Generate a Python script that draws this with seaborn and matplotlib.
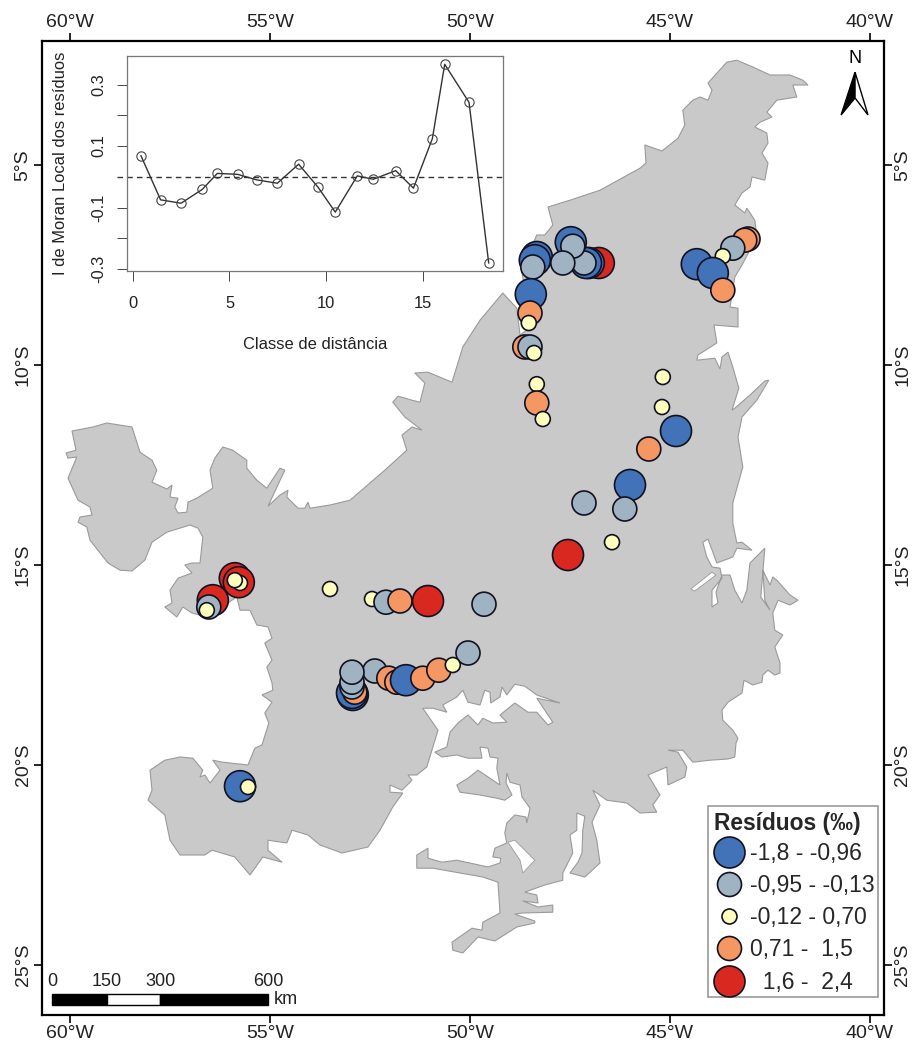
import matplotlib
matplotlib.use("Agg")
import matplotlib.pyplot as plt
from matplotlib.lines import Line2D
from matplotlib.patches import Polygon
import pandas as pd
import seaborn as sns

# Study area outline (lon, lat), digitised north -> west -> south -> east
north_edge = [(-43.58, -2.43), (-44.05, -2.95), (-43.95, -3.13), (-44.05, -3.38), (-44.25, -3.30), (-44.43, -3.38),
              (-44.68, -3.63), (-44.63, -4.0), (-44.8, -4.33), (-45.2, -4.65), (-45.63, -4.5), (-45.6, -4.95),
              (-45.75, -5.08), (-46.75, -5.63), (-47.5, -5.88), (-48.05, -6.05), (-47.93, -6.5), (-48.13, -6.75),
              (-48.33, -6.75), (-48.5, -7.13), (-48.7, -7.7), (-48.58, -8.38), (-48.58, -9.13), (-48.75, -9.25),
              (-48.83, -8.58), (-49.18, -8.2), (-49.75, -8.88), (-50.18, -9.55), (-50.45, -10.43), (-51.05, -10.18),
              (-51.38, -10.2), (-51.13, -10.45), (-51.25, -10.93), (-51.45, -10.88), (-51.8, -10.78), (-51.93, -10.93),
              (-51.63, -11.3), (-51.2, -11.63), (-51.45, -11.55), (-51.7, -11.75), (-51.58, -12.13), (-52.13, -12.63),
              (-53.0, -13.38), (-53.5, -13.5), (-54.0, -13.58), (-54.05, -13.43), (-54.13, -13.58), (-54.3, -13.58),
              (-54.58, -13.3), (-54.55, -13.13), (-54.75, -13.25), (-55.05, -13.53), (-54.63, -12.63), (-54.75, -12.58),
              (-55.08, -13.08), (-55.33, -12.88), (-55.58, -12.58), (-55.58, -12.38), (-55.93, -12.13), (-56.18, -12.05),
              (-56.38, -12.33), (-56.5, -12.63), (-56.43, -13.08), (-56.83, -13.33), (-57.05, -13.43), (-57.08, -13.68),
              (-57.3, -13.7), (-57.38, -13.55), (-57.3, -13.33), (-57.5, -13.3), (-57.45, -13.0), (-57.58, -13.1),
              (-57.95, -12.93), (-57.83, -12.63), (-57.95, -12.38), (-58.25, -12.18), (-58.45, -11.55), (-59.08, -11.45),
              (-59.43, -11.55), (-59.95, -11.65)]
west_edge = [(-59.85, -12.13), (-60.1, -12.2), (-60.05, -12.33), (-59.83, -12.3), (-60.05, -12.83), (-59.8, -13.38),
             (-59.5, -13.55), (-59.45, -13.75), (-59.75, -13.8), (-59.8, -13.93), (-59.58, -14.05), (-59.5, -14.38),
             (-59.05, -14.95), (-58.75, -15.13), (-58.45, -15.15), (-58.13, -14.88), (-57.95, -14.43), (-57.58, -14.18),
             (-57.0, -14.0), (-56.8, -14.08), (-56.68, -14.3), (-56.75, -14.95), (-56.95, -14.95), (-57.13, -15.0),
             (-56.95, -15.2), (-57.3, -15.33), (-57.5, -15.63), (-57.45, -15.95), (-57.63, -16.05), (-57.33, -16.3),
             (-57.18, -16.05), (-56.95, -16.2), (-56.58, -16.3), (-55.83, -15.8), (-55.75, -16.13), (-55.5, -16.13),
             (-55.33, -16.5), (-55.05, -16.55), (-54.95, -16.83), (-55.13, -16.95), (-54.95, -17.38), (-55.08, -17.55),
             (-54.95, -17.95), (-54.93, -18.13), (-55.2, -18.25), (-54.95, -18.43), (-55.13, -18.7), (-55.03, -18.95),
             (-55.2, -19.5), (-55.38, -19.58), (-55.55, -20.0), (-56.18, -19.93), (-56.43, -19.88), (-56.25, -20.13),
             (-56.5, -20.45), (-56.63, -20.25), (-56.75, -20.3), (-56.68, -20.13), (-56.93, -19.83), (-57.25, -19.8),
             (-57.63, -19.88), (-58.0, -20.13), (-57.95, -20.63), (-58.05, -20.88), (-57.63, -21.25), (-57.5, -21.88)]
south_edge = [(-57.25, -22.25), (-56.63, -22.25), (-56.45, -22.13), (-55.88, -22.3), (-55.5, -22.75), (-55.18, -22.3),
              (-54.7, -22.43), (-55.05, -22.13), (-55.05, -21.88), (-54.58, -21.95), (-54.45, -21.63), (-54.05, -21.75),
              (-53.75, -22.0), (-53.2, -22.2), (-52.55, -22.05), (-52.25, -21.63), (-51.93, -21.05), (-51.68, -20.7),
              (-52.0, -20.68), (-52.0, -20.5), (-51.7, -20.63), (-51.45, -20.38), (-51.55, -20.25), (-51.33, -20.25),
              (-51.08, -20.05), (-50.8, -19.13), (-51.18, -18.58), (-50.93, -18.58), (-50.58, -18.68), (-50.68, -18.5),
              (-50.33, -18.3), (-50.18, -18.13), (-50.05, -18.43), (-49.75, -18.5), (-49.63, -18.13), (-49.5, -18.18),
              (-49.48, -18.45), (-49.25, -18.3), (-49.2, -18.05), (-49.08, -18.25), (-48.88, -17.98), (-48.63, -18.03),
              (-48.33, -18.25), (-47.75, -18.45), (-48.33, -18.33), (-47.93, -18.93), (-48.05, -19.0), (-48.33, -18.68),
              (-48.55, -18.68), (-48.88, -18.45), (-49.25, -18.75), (-49.08, -18.93), (-49.43, -18.95), (-49.68, -18.83),
              (-49.8, -19.0), (-50.05, -18.75), (-50.3, -18.95), (-50.5, -19.18), (-50.58, -19.55), (-50.88, -19.68),
              (-50.7, -19.8), (-50.33, -19.75), (-50.05, -19.83), (-49.7, -19.83), (-49.75, -19.55), (-49.55, -19.58),
              (-49.5, -19.8), (-49.3, -19.83), (-49.33, -20.08), (-49.25, -20.5), (-49.8, -20.13), (-50.05, -20.33),
              (-50.33, -20.5), (-50.25, -20.68), (-49.75, -20.75), (-49.33, -20.83), (-49.13, -20.88), (-48.95, -20.75),
              (-49.1, -20.45), (-49.08, -20.2), (-49.0, -20.43), (-48.75, -20.5), (-48.7, -20.8), (-48.5, -21.08),
              (-48.58, -21.45), (-48.6, -21.3), (-48.88, -21.25), (-49.08, -21.45), (-49.13, -21.7), (-49.08, -21.95),
              (-49.38, -22.08), (-49.43, -22.3), (-49.23, -22.33), (-49.25, -22.45), (-49.55, -22.55), (-50.33, -22.38),
              (-50.7, -22.43), (-51.05, -22.33), (-51.05, -22.08), (-51.33, -22.25), (-51.33, -22.58), (-50.93, -22.58),
              (-50.25, -22.7), (-49.68, -22.8), (-49.3, -22.93), (-49.25, -23.7), (-49.68, -23.93), (-49.7, -24.13),
              (-49.95, -24.08), (-50.45, -24.43), (-50.43, -24.63), (-50.18, -24.7), (-49.8, -24.3), (-49.38, -24.4),
              (-48.83, -24.05), (-48.38, -23.95), (-48.38, -23.9), (-48.88, -23.73), (-48.7, -23.7), (-47.93, -23.68),
              (-47.93, -23.5), (-48.3, -23.55), (-48.68, -23.4), (-48.3, -23.45), (-48.33, -23.25), (-48.63, -23.18),
              (-48.13, -23.0), (-47.68, -22.88), (-47.68, -22.7), (-47.43, -22.2), (-47.5, -21.75), (-47.33, -21.63),
              (-47.33, -21.2), (-47.13, -21.28), (-47.18, -21.63), (-47.2, -22.2), (-47.3, -22.43), (-47.5, -22.7),
              (-47.13, -22.8), (-46.75, -22.45), (-46.83, -21.88), (-46.95, -21.43), (-46.75, -21.0), (-46.93, -20.63),
              (-46.58, -20.88), (-46.08, -20.95), (-45.75, -21.2), (-45.33, -21.18), (-45.43, -21.0), (-45.25, -20.75),
              (-45.55, -20.25), (-45.08, -20.05), (-45.05, -20.5), (-44.63, -20.3), (-44.58, -20.05), (-44.8, -19.68),
              (-45.05, -19.63), (-44.68, -19.63), (-44.43, -19.93)]
east_edge = [(-44.0, -19.88), (-43.55, -19.85), (-43.38, -19.8), (-43.35, -19.45), (-43.3, -19.33), (-43.43, -19.13),
             (-43.68, -18.88), (-43.7, -18.63), (-43.55, -18.43), (-43.2, -18.2), (-43.15, -17.88), (-42.93, -18.0),
             (-42.7, -17.93), (-42.68, -17.75), (-42.55, -17.63), (-42.38, -17.75), (-42.25, -17.7), (-42.25, -17.45),
             (-42.38, -17.05), (-42.18, -16.75), (-42.38, -16.63), (-42.43, -16.2), (-42.3, -15.88), (-42.0, -16.0),
             (-41.8, -15.88), (-42.0, -15.75), (-42.33, -15.38), (-42.43, -15.3), (-42.5, -15.5), (-42.68, -15.13),
             (-42.63, -15.88), (-42.5, -16.13), (-42.73, -15.8), (-42.63, -14.58), (-43.0, -14.95), (-43.08, -15.63),
             (-43.2, -15.95), (-43.38, -15.63), (-43.5, -15.25), (-43.7, -15.25), (-43.85, -15.68), (-43.8, -15.95),
             (-43.95, -16.05), (-43.95, -15.63), (-43.7, -15.33), (-43.75, -15.08), (-43.95, -15.05), (-44.08, -14.8),
             (-44.18, -14.43), (-44.05, -14.35), (-43.83, -14.95), (-43.43, -14.8), (-43.33, -14.58), (-42.95, -14.63),
             (-43.2, -14.43), (-43.33, -14.45), (-43.43, -13.95), (-43.43, -13.45), (-43.18, -12.55), (-43.3, -11.8),
             (-43.2, -11.3), (-42.83, -10.88), (-42.53, -10.38), (-42.63, -10.4), (-43.0, -10.75), (-43.38, -11.08),
             (-43.45, -11.13), (-43.28, -10.58), (-43.43, -10.05), (-43.55, -9.68), (-43.7, -9.8), (-43.75, -10.1),
             (-43.88, -9.83), (-44.33, -9.88), (-44.3, -9.75), (-43.83, -9.45), (-43.9, -9.0), (-43.3, -9.05),
             (-43.3, -8.58), (-43.5, -8.55), (-43.38, -7.8), (-43.2, -7.5), (-42.83, -6.8), (-42.88, -6.38),
             (-43.08, -6.08), (-43.13, -6.2), (-43.38, -6.0), (-43.2, -5.7), (-43.0, -5.55), (-42.95, -5.3),
             (-42.63, -5.38), (-42.55, -4.95), (-42.7, -4.7), (-42.55, -4.45), (-42.58, -4.2), (-42.88, -4.05),
             (-42.75, -3.93), (-42.45, -3.8), (-42.58, -3.68), (-42.33, -3.38), (-41.83, -3.3), (-41.93, -3.0),
             (-41.55, -3.0), (-41.68, -2.88), (-42.0, -2.75), (-42.5, -2.75), (-42.93, -2.55), (-43.33, -2.38)]
hole_south = [(-49.05, -21.93), (-48.88, -21.88), (-48.38, -22.38), (-48.68, -22.7), (-48.75, -22.38)]
hole_east = [(-44.48, -15.6), (-43.95, -15.18), (-43.85, -15.25), (-44.38, -15.65)]

# Sampling sites, in drawing order
site_lon = [-48.33, -48.38, -48.43, -48.48, -48.5, -48.53, -48.63, -48.5, -48.4, -48.33, -48.33, -48.18,
            -46.78, -47.03, -47.1, -47.15, -47.48, -47.43, -47.68,
            -43.05, -43.13, -43.43, -43.68, -44.33, -43.93, -43.68,
            -45.18, -45.2, -44.85, -45.53, -46.0, -46.13, -47.15, -46.45, -47.55,
            -56.43, -56.53, -56.58, -55.88, -55.78, -55.75, -55.88,
            -53.5, -52.45, -52.1, -51.75, -51.05, -49.65,
            -52.38, -52.03, -51.83, -51.6, -51.18, -50.78, -50.05, -50.43,
            -52.93, -52.95, -52.88, -52.95, -52.95, -52.95,
            -55.75, -55.55]
site_lat = [-7.3, -7.38, -7.55, -8.23, -8.7, -8.95, -9.55, -9.55, -9.7, -10.48, -10.95, -11.35,
            -7.45, -7.45, -7.45, -7.45, -6.93, -7.03, -7.45,
            -6.85, -6.88, -7.08, -7.28, -7.48, -7.7, -8.13,
            -10.3, -11.05, -11.65, -12.1, -13.0, -13.6, -13.45, -14.43, -14.75,
            -15.88, -16.05, -16.13, -15.33, -15.43, -15.45, -15.38,
            -15.6, -15.85, -15.93, -15.9, -15.9, -15.98,
            -17.65, -17.83, -17.93, -17.88, -17.83, -17.63, -17.2, -17.5,
            -18.25, -18.2, -18.18, -18.05, -17.93, -17.68,
            -20.53, -20.55]
site_class = [0, 0, 1, 0, 3, 2, 3, 1, 2, 2, 3, 2,
              4, 0, 0, 1, 0, 1, 1,
              3, 3, 1, 2, 0, 0, 3,
              2, 2, 0, 3, 0, 1, 1, 2, 4,
              4, 1, 2, 4, 4, 2, 2,
              2, 2, 1, 3, 4, 1,
              1, 3, 3, 0, 3, 3, 1, 2,
              0, 0, 3, 1, 1, 1,
              0, 2]
class_labels = ["-1,8 - -0,96", "-0,95 - -0,13", "-0,12 - 0,70", "0,71 -  1,5", "  1,6 -  2,4"]
class_colors = ["#4272b8", "#9fb3c3", "#ffffbe", "#f59763", "#d9281f"]
class_diam_px = [31, 24, 15, 24, 31]

# Correlogram
moran_class = [0.41, 1.43, 2.49, 3.59, 4.37, 5.42, 6.41, 7.48, 8.58, 9.59, 10.48, 11.62, 12.45, 13.61, 14.53, 15.51, 16.15, 17.41, 18.43]
moran_i = [0.069, -0.075, -0.086, -0.041, 0.011, 0.008, -0.010, -0.021, 0.041, -0.034, -0.115, 0.003, -0.008, 0.020, -0.037, 0.124, 0.366, 0.242, -0.281]

# Scale bar
scale_km = [0, 150, 300, 600]
scale_lon = [-60.45, -59.08, -57.75, -55.05]
scale_colors = ["black", "white", "black"]

sns.set_theme(style="white")
plt.rcParams["font.family"] = ["Liberation Sans", "DejaVu Sans"]

W, H = 913, 1045
fig = plt.figure(figsize=(W / 100, H / 100), dpi=100)
ax = fig.add_axes([42 / W, 1 - 1015 / H, 842 / W, 974 / H])

outline = north_edge + west_edge + south_edge + east_edge
ax.fill([p[0] for p in outline], [p[1] for p in outline], facecolor="#c9c9c9", edgecolor="#9a9a9a", linewidth=0.8, zorder=1)
for hole in [hole_south, hole_east]:
    ax.fill([p[0] for p in hole], [p[1] for p in hole], facecolor="white", edgecolor="#9a9a9a", linewidth=0.6, zorder=1.5)

sites = pd.DataFrame({"lon": site_lon, "lat": site_lat, "classe": site_class})
sizes = {i: (d * 0.72) ** 2 for i, d in enumerate(class_diam_px)}
sns.scatterplot(data=sites, x="lon", y="lat", hue="classe", size="classe", palette=dict(enumerate(class_colors)),
                sizes=sizes, edgecolor="#111122", linewidth=1.2, legend=False, ax=ax, zorder=3)

ax.set_xlim(-60.7, -39.65)
ax.set_ylim(-26.25, -1.9)
ax.set_xlabel("")
ax.set_ylabel("")
lon_ticks = [-60, -55, -50, -45, -40]
lat_ticks = [-5, -10, -15, -20, -25]
ax.set_xticks(lon_ticks)
ax.set_xticklabels([f"{-v}°W" for v in lon_ticks])
ax.set_yticks(lat_ticks)
ax.set_yticklabels([f"{-v}°S" for v in lat_ticks], rotation=90, va="center")
ax.tick_params(axis="both", which="both", length=5.5, width=1.2, color="black", labelsize=14, labelcolor="#222222",
               top=True, right=True, bottom=True, left=True, labeltop=True, labelright=True, pad=2)
for s in ax.spines.values():
    s.set_color("black")
    s.set_linewidth(1.6)
    s.set_visible(True)

# scale bar
for i, c in enumerate(scale_colors):
    ax.barh(-25.87, scale_lon[i + 1] - scale_lon[i], left=scale_lon[i], height=0.27, color=c, edgecolor="black", linewidth=1, zorder=4)
for km, lon in zip(scale_km, scale_lon):
    ax.text(lon, -25.63, str(km), ha="center", va="bottom", fontsize=13, color="#222222")
ax.text(-54.9, -25.87, "km", ha="left", va="center", fontsize=13, color="#222222")

# north arrow
ax.add_patch(Polygon([(0.9656, 0.968), (0.949, 0.924), (0.9656, 0.9415)], closed=True, transform=ax.transAxes, facecolor="black", edgecolor="black", linewidth=1))
ax.add_patch(Polygon([(0.9656, 0.968), (0.981, 0.924), (0.9656, 0.9415)], closed=True, transform=ax.transAxes, facecolor="white", edgecolor="black", linewidth=1))
ax.text(0.9656, 0.9825, "N", transform=ax.transAxes, ha="center", va="center", fontsize=13, color="black")

# legend
handles = [Line2D([], [], linestyle="none", marker="o", markersize=d * 0.72, markerfacecolor=c, markeredgecolor="#111122", markeredgewidth=1.2)
           for c, d in zip(class_colors, class_diam_px)]
leg = ax.legend(handles, class_labels, title="Resíduos (‰)", loc="lower right", bbox_to_anchor=(878 / 842 - 42 / 842, (1015 - 997) / 974),
                borderaxespad=0, fontsize=16.5, frameon=True, fancybox=False, facecolor="white", edgecolor="#999999",
                labelspacing=0.40, handletextpad=0.1, handlelength=1.6, borderpad=0.15, alignment="left", framealpha=1)
leg.get_title().set_fontsize(16.4)
leg.get_title().set_fontweight("bold")
leg.get_title().set_position((3.5, -2.5))
leg.get_frame().set_linewidth(1.2)
leg.set_zorder(6)

# inset correlogram
inset = fig.add_axes([127 / W, 1 - 271 / H, 376 / W, 215 / H])
inset.set_facecolor("white")
moran = pd.DataFrame({"classe": moran_class, "moran": moran_i})
sns.lineplot(data=moran, x="classe", y="moran", color="#333333", linewidth=1.0, marker="o", markersize=6.7,
             markerfacecolor="none", markeredgecolor="#444444", markeredgewidth=0.8, ax=inset)
inset.axhline(0, xmin=-0.027, xmax=0.998, color="#333333", linewidth=1.0, linestyle=(0, (4, 3)), clip_on=False)
inset.set_xlim(-0.31, 19.17)
inset.set_ylim(-0.3065, 0.393)
inset.set_xticks([0, 5, 10, 15])
inset.set_yticks([-0.3, -0.2, -0.1, 0.1, 0.2, 0.3])
inset.set_yticklabels(["-0.3", "", "-0.1", "0.1", "", "0.3"], rotation=90, va="center")
inset.tick_params(axis="both", length=7, width=0.7, color="#444444", labelsize=11.9, labelcolor="#222222", bottom=True, left=True)
inset.tick_params(axis="x", pad=11)
inset.tick_params(axis="y", pad=8)
inset.set_xlabel("Classe de distância", fontsize=11.9, color="#222222", labelpad=18.5)
inset.set_ylabel("I de Moran Local dos resíduos", fontsize=11.9, color="#222222", labelpad=17)
for s in inset.spines.values():
    s.set_color("#777777")
    s.set_linewidth(0.9)
    s.set_visible(True)

fig.savefig("out.png", dpi=100, facecolor="white")
